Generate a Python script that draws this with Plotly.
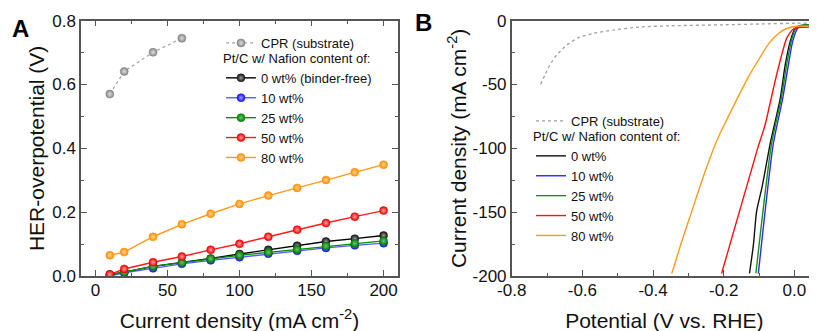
import plotly.graph_objects as go

W, H = 817, 331
OX, OY = 8, 8  # page body margin offset of the rendered figure

# ---------------- Panel A data ----------------
cpr_j = [10, 20, 40, 60]
cpr_eta = [0.570, 0.641, 0.701, 0.745]

cur_j = [10, 20, 40, 60, 80, 100, 120, 140, 160, 180, 200]
eta_0 = [0.005, 0.012, 0.030, 0.042, 0.055, 0.069, 0.082, 0.095, 0.108, 0.117, 0.127]
eta_10 = [0.000, 0.010, 0.024, 0.038, 0.049, 0.059, 0.070, 0.079, 0.088, 0.096, 0.103]
eta_25 = [0.003, 0.012, 0.030, 0.042, 0.054, 0.065, 0.074, 0.083, 0.094, 0.102, 0.110]
eta_50 = [0.005, 0.022, 0.043, 0.061, 0.082, 0.101, 0.123, 0.145, 0.166, 0.186, 0.205]
eta_80 = [0.065, 0.075, 0.123, 0.162, 0.195, 0.226, 0.252, 0.276, 0.301, 0.325, 0.349]

a_names = ["0 wt% (binder-free)", "10 wt%", "25 wt%", "50 wt%", "80 wt%"]

# ---------------- Panel B data ----------------
cpr_v = [-0.718, -0.706, -0.692, -0.673, -0.644, -0.611, -0.569, -0.512, -0.437, -0.35, -0.2, -0.1, 0.0, 0.1]
cpr_i = [-49.8, -42.5, -34.7, -26.9, -19.0, -13.3, -9.9, -7.3, -4.9, -4.0, -3.2, -2.6, -2.0, -1.6]

v_0 = [-0.127, -0.116, -0.107, -0.092, -0.083, -0.069, -0.040, -0.026, -0.012, 0.002, 0.015, 0.1]
i_0 = [-198, -175.6, -149.6, -131, -118, -97, -60.8, -34.7, -16.4, -6, -4, -4]
v_10 = [-0.102, -0.060, -0.033, -0.017, -0.005, 0.009, 0.022, 0.1]
i_10 = [-198, -97, -60.8, -34.7, -16.4, -6, -3.6, -3.5]
v_25 = [-0.109, -0.065, -0.037, -0.022, -0.009, 0.004, 0.018, 0.1]
i_25 = [-198, -97, -60.8, -34.7, -16.4, -6, -3.6, -3.5]
v_50 = [-0.206, -0.104, -0.083, -0.055, -0.036, -0.022, -0.003, 0.02, 0.1]
i_50 = [-198, -100, -81.7, -47.8, -26.9, -13.8, -6.5, -5.2, -5]
v_80 = [-0.347, -0.32, -0.29, -0.26, -0.234, -0.21, -0.185, -0.159, -0.13, -0.10, -0.07,
        -0.045, -0.025, -0.007, 0.011, 0.1]
i_80 = [-198, -174, -149, -124, -104, -88, -74, -59.5, -44, -30, -17,
        -10, -6.5, -4.9, -4.3, -4.2]

b_names = ["0 wt%", "10 wt%", "25 wt%", "50 wt%", "80 wt%"]

# tick labels
a_xticks = [0, 50, 100, 150, 200]
a_xlabels = ["0", "50", "100", "150", "200"]
a_yticks = [0.0, 0.2, 0.4, 0.6, 0.8]
a_ylabels = ["0.0", "0.2", "0.4", "0.6", "0.8"]
b_xticks = [-0.8, -0.6, -0.4, -0.2, 0.0]
b_xlabels = ["-0.8", "-0.6", "-0.4", "-0.2", "0.0"]
b_yticks = [0, -50, -100, -150, -200]
b_ylabels = ["0", "-50", "-100", "-150", "-200"]

FONT = "Liberation Sans, Arial, sans-serif"
line_cols = ["#000000", "#5a5aff", "#009000", "#ff1a1a", "#ff9a1a"]
mark_cols = ["#111111", "#1010ff", "#008000", "#ee0000", "#ff9000"]
mark_hi = ["#9a9a9a", "#a0a0ff", "#70c070", "#ffa0a0", "#ffd090"]
b_cols = ["#111111", "#2a2aff", "#139313", "#ff1010", "#ff9a1a"]


def px(xw):
    return (xw - OX) / W


def py(yw):
    return 1 - (yw - OY) / H


fig = go.Figure()

# Panel A traces
fig.add_trace(go.Scatter(
    x=cpr_j, y=cpr_eta, mode="lines+markers", name="CPR (substrate)",
    line=dict(color="#a8a8a8", width=1.3, dash="dot"),
    marker=dict(size=8, color="#8a8a8a", gradient=dict(type="radial", color="#dddddd"),
                line=dict(width=0.5, color="#777777")),
    xaxis="x", yaxis="y", legend="legend", showlegend=True))
for ys, nm, lc, mc, hc in zip([eta_0, eta_10, eta_25, eta_50, eta_80], a_names, line_cols, mark_cols, mark_hi):
    fig.add_trace(go.Scatter(
        x=cur_j, y=ys, mode="lines+markers", name=nm,
        line=dict(color=lc, width=1.4),
        marker=dict(size=8, color=mc, gradient=dict(type="radial", color=hc),
                    line=dict(width=0.5, color=mc)),
        xaxis="x", yaxis="y", legend="legend2", showlegend=True))

# Panel B traces
fig.add_trace(go.Scatter(
    x=cpr_v, y=cpr_i, mode="lines", name="CPR (substrate)",
    line=dict(color="#a0a0a0", width=1.3, dash="dot", shape="spline", smoothing=0.6),
    xaxis="x2", yaxis="y2", legend="legend3", showlegend=True))
for vs, js, nm, c in zip([v_0, v_10, v_25, v_50, v_80], [i_0, i_10, i_25, i_50, i_80], b_names, b_cols):
    fig.add_trace(go.Scatter(
        x=vs, y=js, mode="lines", name=nm,
        line=dict(color=c, width=1.4, shape="spline", smoothing=0.6),
        xaxis="x2", yaxis="y2", legend="legend4", showlegend=True))

axcol = "#555555"
tf = dict(family=FONT, size=17, color="#111111")
ttf = dict(family=FONT, size=21, color="#111111")
ydom = [py(276), py(20.7)]

common = dict(showline=True, linecolor=axcol, linewidth=1.5, ticks="inside", ticklen=6,
              tickwidth=1.2, tickcolor=axcol, showgrid=False, zeroline=False, tickfont=tf,
              tickmode="array", automargin=False)

leg_font = dict(family=FONT, size=13, color="#111111")
leg_common = dict(xanchor="left", yanchor="top", bgcolor="rgba(0,0,0,0)", font=leg_font,
                  itemwidth=30, tracegroupgap=0)

fig.update_layout(
    width=W, height=H, margin=dict(l=0, r=0, t=0, b=0, autoexpand=False),
    paper_bgcolor="white", plot_bgcolor="white", showlegend=True,
    font=dict(family=FONT, color="#111111"),
    xaxis=dict(domain=[px(81), px(398)], range=[-10, 210], anchor="y", mirror="ticks",
               tickvals=a_xticks, ticktext=a_xlabels, ticklabelstandoff=-2,
               minor=dict(ticks="inside", ticklen=3.5, tickcolor=axcol, tickmode="linear", tick0=0, dtick=25),
               title=dict(text="Current density (mA cm<sup>-2</sup>)", font=ttf, standoff=14), **common),
    yaxis=dict(domain=ydom, range=[0, 0.8], anchor="x", mirror="ticks",
               tickvals=a_yticks, ticktext=a_ylabels,
               minor=dict(ticks="inside", ticklen=3.5, tickcolor=axcol, tickmode="linear", tick0=0, dtick=0.1),
               title=dict(text="HER-overpotential (V)", font=ttf, standoff=2), **common),
    xaxis2=dict(domain=[px(511.7), px(817)], range=[-0.8, 0.064], anchor="y2", mirror=True,
                tickvals=b_xticks, ticktext=b_xlabels, ticklabelstandoff=-2,
                minor=dict(ticks="inside", ticklen=3.5, tickcolor=axcol, tickmode="linear", tick0=-0.8, dtick=0.1),
                title=dict(text="Potential (V vs. RHE)", font=ttf, standoff=14), **common),
    yaxis2=dict(domain=ydom, range=[-200, 0], anchor="x2",
                tickvals=b_yticks, ticktext=b_ylabels,
                minor=dict(ticks="inside", ticklen=3.5, tickcolor=axcol, tickmode="linear", tick0=0, dtick=25),
                title=dict(text="Current density (mA cm<sup>-2</sup>)", font=ttf, standoff=0), **common),
    legend=dict(x=px(221), y=py(28), **leg_common),
    legend2=dict(x=px(221), y=py(46), title=dict(text="Pt/C w/ Nafion content of:", font=leg_font),
                 **leg_common),
    legend3=dict(x=px(531), y=py(106), **leg_common),
    legend4=dict(x=px(531), y=py(124), title=dict(text="Pt/C w/ Nafion content of:", font=leg_font),
                 **leg_common),
    annotations=[
        dict(text="<b>A</b>", x=px(10), y=py(13), xref="paper", yref="paper", xanchor="left",
             yanchor="top", showarrow=False, font=dict(family=FONT, size=24, color="#000")),
        dict(text="<b>B</b>", x=px(413), y=py(7), xref="paper", yref="paper", xanchor="left",
             yanchor="top", showarrow=False, font=dict(family=FONT, size=24, color="#000")),
    ],
)

fig.write_html("out.html")
